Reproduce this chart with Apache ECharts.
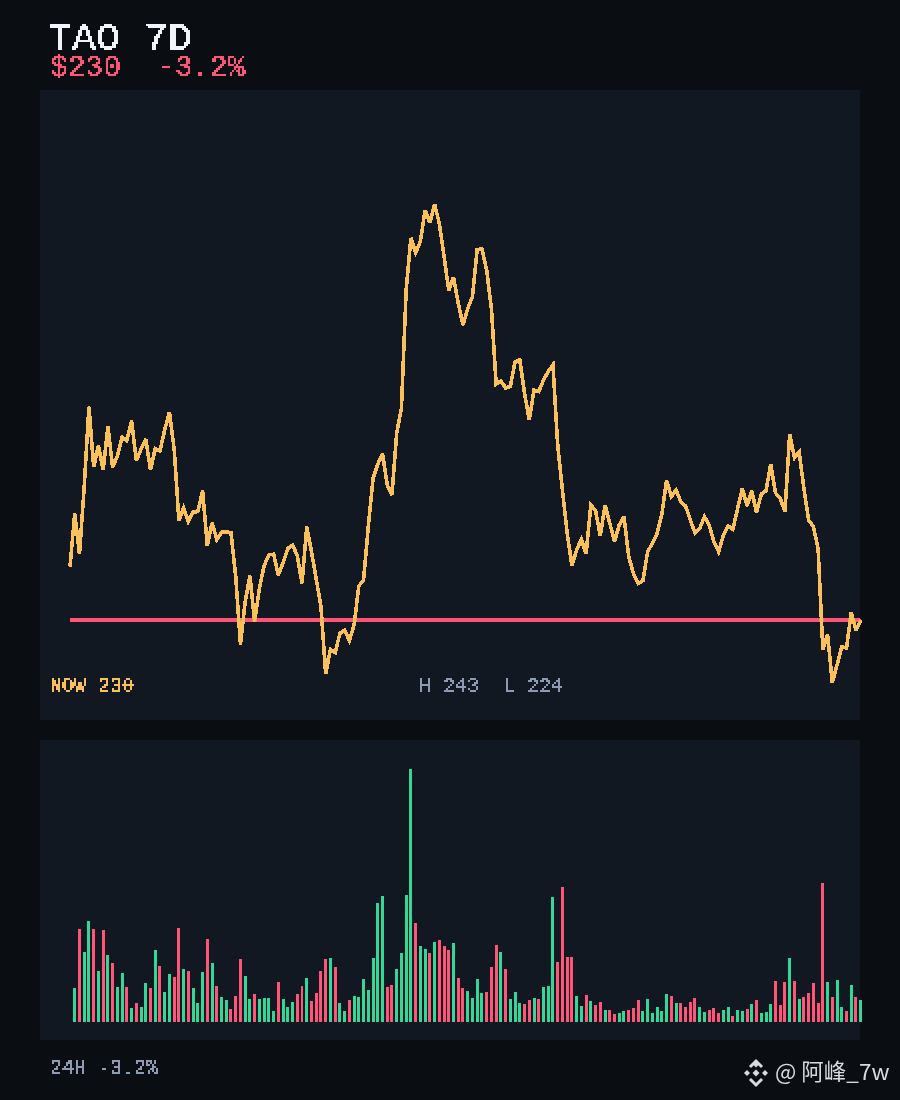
<!DOCTYPE html>
<html>
<head>
<meta charset="utf-8">
<style>
html,body{margin:0;padding:0;background:#0a0d12;}
#wrap{position:relative;width:900px;height:1100px;overflow:hidden;}
.layer{position:absolute;left:0;top:0;width:900px;height:1100px;}
#plot{filter:url(#hard);}
#labels{filter:url(#hardText);}
#labels canvas{image-rendering:pixelated;}
</style>
<script src="https://cdn.jsdelivr.net/npm/echarts@6/dist/echarts.min.js"></script>
</head>
<body>
<svg width="0" height="0" style="position:absolute">
<filter id="hard" color-interpolation-filters="sRGB" x="0" y="0" width="100%" height="100%"><feComponentTransfer><feFuncA type="discrete" tableValues="0 1"/></feComponentTransfer></filter>
<filter id="hardText" color-interpolation-filters="sRGB" x="0" y="0" width="100%" height="100%"><feComponentTransfer><feFuncA type="discrete" tableValues="0 0 1 1 1"/></feComponentTransfer></filter>
</svg>
<div id="wrap">
<div id="base" class="layer"></div>
<div id="plot" class="layer"></div>
<div id="labels" class="layer"></div>
</div>
<script>
const titleText = 'TAO 7D';
const subText = '$230  -3.2%';
const nowText = 'NOW 230';
const rangeText = 'H 243  L 224';
const footText = '24H -3.2%';
const markText = '@ 阿峰_7w';
const nowPrice = 230;
const prices = [231.71,233.41,232.11,234.27,236.83,234.89,235.58,234.80,236.19,234.89,235.25,235.85,235.74,236.38,235.10,235.46,235.79,234.80,235.49,235.41,236.08,236.65,235.47,233.18,233.59,233.15,233.45,233.47,234.14,232.37,233.11,232.58,232.81,232.82,232.80,231.39,229.22,230.59,231.42,229.95,231.01,231.74,232.08,232.11,231.44,231.83,232.29,232.40,232.06,231.17,232.99,232.19,231.31,230.43,228.27,229.06,228.95,229.57,229.68,229.34,229.84,231.09,231.28,232.99,234.53,234.99,235.33,234.32,234.00,235.98,236.78,240.56,242.23,241.75,242.11,243.12,242.71,243.31,242.69,241.63,240.54,240.97,240.13,239.44,239.97,240.35,241.86,241.87,241.20,239.97,237.55,237.65,237.43,237.47,238.27,238.32,237.26,236.40,237.36,237.31,237.68,237.95,238.16,235.60,234.16,232.78,231.74,232.24,232.58,232.11,233.68,233.50,232.69,233.68,233.10,232.51,233.04,233.31,232.03,231.49,231.17,231.26,232.19,232.45,232.77,233.39,234.46,233.95,234.16,233.79,233.65,233.20,232.79,232.93,233.31,233.04,232.51,232.18,232.72,233.01,232.90,233.57,234.21,233.65,234.14,233.43,234.03,234.14,234.99,234.07,233.89,233.47,235.95,235.19,235.38,234.21,233.20,232.99,232.29,229.06,229.55,227.99,228.56,229.15,229.10,230.25,229.66,230.00];
const volumes = [34,93,70,101,93,51,92,67,59,35,49,35,14,19,15,39,34,72,56,30,48,45,94,53,51,34,19,50,83,59,36,25,22,13,26,63,46,23,28,23,24,24,11,40,23,15,20,28,36,44,21,29,51,63,64,55,19,11,22,26,25,43,32,64,119,126,35,37,53,69,127,253,99,76,73,69,80,82,76,72,79,44,34,31,24,43,29,30,55,77,70,53,23,30,19,18,22,24,23,35,36,125,60,135,65,65,26,16,27,21,17,20,12,12,8,9,11,12,14,22,11,23,9,15,11,28,26,19,19,15,20,24,15,10,12,14,9,12,15,6,12,11,13,18,22,9,10,18,41,17,40,64,41,23,25,29,39,19,139,40,25,42,15,11,37,25,22];
const hours = prices.map((_, i) => String(i));

const AMBER = '#fac05a', RED = '#ff5577', GREEN = '#34d795', WHITE = '#f1f5f9', SLATE = '#8d9bb3';
const MONO = '"Liberation Mono", monospace';

const rect = (x,y,w,h,fill) => ({type:'rect', silent:true, shape:{x,y,width:w,height:h}, style:{fill}});
const txt = (x,y,text,size,fill,font) => ({type:'text', z:10, silent:true, x, y, style:{text, fill, font:`${size}px ${font||MONO}`, textVerticalAlign:'top'}});
const diamond = (cx,cy,r,fill) => ({type:'polygon', z:10, silent:true, shape:{points:[[cx,cy-r],[cx+r,cy],[cx,cy+r],[cx-r,cy]]}, style:{fill}});
const chevron = (pts) => ({type:'polyline', z:10, silent:true, shape:{points:pts}, style:{stroke:'#d9dadc', fill:null, lineWidth:3, lineJoin:'miter'}});

const base = echarts.init(document.getElementById('base'), null, {renderer:'canvas', width:900, height:1100});
base.setOption({
  animation:false,
  backgroundColor:'#0a0d12',
  graphic:[
    rect(40,90,820,630,'#121822'),
    rect(40,740,820,300,'#121822'),
    diamond(756,1064,3.5,'#d9dadc'),
    diamond(756,1073,3.5,'#d9dadc'),
    diamond(747,1073,3,'#d9dadc'),
    diamond(765,1073,3,'#d9dadc'),
    chevron([[750,1067],[756,1061],[762,1067]]),
    chevron([[750,1079],[756,1085],[762,1079]]),
    txt(775,1060,markText,22.5,'#d9dadc','"Noto Sans CJK SC", "Noto Sans", sans-serif')
  ]
});

const plot = echarts.init(document.getElementById('plot'), null, {renderer:'canvas', width:900, height:1100, devicePixelRatio:1});
plot.setOption({
  animation:false,
  backgroundColor:'transparent',
  grid:[
    {left:70, right:39.3, top:90, height:630},
    {left:70, right:39.3, top:769, height:253}
  ],
  xAxis:[
    {type:'category', gridIndex:0, data:hours, boundaryGap:false, show:false},
    {type:'category', gridIndex:1, data:hours, boundaryGap:false, show:false}
  ],
  yAxis:[
    {type:'value', gridIndex:0, min:226.8, max:246.96, show:false},
    {type:'value', gridIndex:1, min:0, max:253, show:false}
  ],
  series:[
    {type:'line', name:'now', xAxisIndex:0, yAxisIndex:0, data:prices.map(()=>nowPrice), showSymbol:false, clip:false,
     lineStyle:{color:RED, width:3}, z:3, silent:true},
    {type:'line', name:'price', xAxisIndex:0, yAxisIndex:0, data:prices, showSymbol:false, clip:false,
     lineStyle:{color:AMBER, width:3.6, join:'miter', miterLimit:3}, z:4, silent:true},
    {type:'bar', name:'volume', xAxisIndex:1, yAxisIndex:1, barWidth:3, clip:false, silent:true,
     data:[null].concat(volumes).map((v,i)=> v===null ? null : ({value:v, itemStyle:{color: prices[i]>=prices[i-1] ? GREEN : RED}}))}
  ]
});

const labels = echarts.init(document.getElementById('labels'), null, {renderer:'canvas', width:900, height:1100, devicePixelRatio:0.5});
labels.setOption({
  animation:false,
  backgroundColor:'transparent',
  graphic:[
    txt(48,20,titleText,40,WHITE),
    txt(50,54,subText,29.6,RED),
    txt(50,676,nowText,20,AMBER),
    txt(419,676,rangeText,20,SLATE),
    txt(50,1058,footText,20,SLATE)
  ]
});
</script>
</body>
</html>
